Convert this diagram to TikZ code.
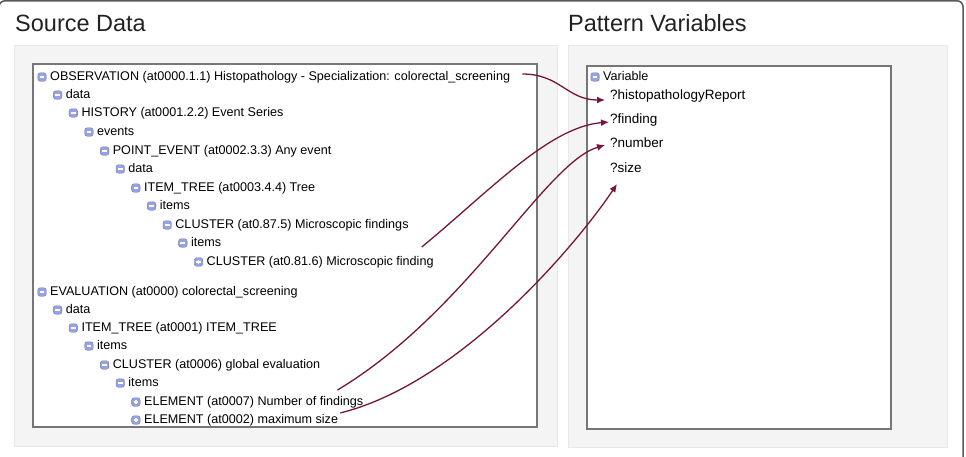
\documentclass[tikz,border=0pt]{standalone}
\usepackage{fontspec}
\setmainfont{Liberation Sans}
\usetikzlibrary{arrows.meta}
\definecolor{panelgray}{RGB}{244,244,244}
\definecolor{paneledge}{RGB}{232,232,232}
\definecolor{boxedge}{RGB}{118,118,118}
\definecolor{framegray}{RGB}{90,90,90}
\definecolor{linkred}{RGB}{118,22,58}
\definecolor{iconblue}{RGB}{150,162,228}
\definecolor{headtext}{RGB}{34,34,34}
\tikzset{
  panel/.style={fill=panelgray, draw=paneledge, line width=0.8pt},
  treebox/.style={fill=white, draw=boxedge, line width=1.4pt},
  rowtext/.style={anchor=west, inner sep=0pt, text height=9.5pt, text depth=2.7pt,
    font=\fontsize{12.6}{15}\selectfont},
  vartext/.style={rowtext, font=\fontsize{13.5}{16}\selectfont},
  heading/.style={anchor=base west, inner sep=0pt, text=headtext,
    font=\fontsize{23.5}{28}\selectfont},
  minusbox/.style={rectangle, rounded corners=2.5pt, minimum size=8.5pt, inner sep=0pt,
    fill=iconblue, draw=iconblue!75!black, line width=0.4pt,
    path picture={\draw[white, line width=1.3pt]
      ([xshift=-2.4pt]path picture bounding box.center) -- ([xshift=2.4pt]path picture bounding box.center);}},
  plusbox/.style={minusbox,
    path picture={\draw[white, line width=1.3pt]
      ([xshift=-2.4pt]path picture bounding box.center) -- ([xshift=2.4pt]path picture bounding box.center)
      ([yshift=-2.4pt]path picture bounding box.center) -- ([yshift=2.4pt]path picture bounding box.center);}},
  link/.style={-{Latex[length=8pt,width=7pt]}, linkred, line width=1.3pt}
}

\begin{document}
\begin{tikzpicture}[x=1pt, y=-1pt]
  \useasboundingbox (0,0) rectangle (966,456);
  \begin{scope}
    \clip (0,0) rectangle (966,456);
    \draw[framegray, line width=1.5pt, rounded corners=6pt] (-1,0.8) rectangle (963,480);
  \end{scope}

  % panels
  \node[heading] (srctitle) at (15,31) {Source Data};
  \node[heading] (vartitle) at (568,31) {Pattern Variables};
  \draw[panel] (14,45) rectangle (557,446);
  \draw[panel] (568,45) rectangle (947,447);
  \draw[treebox] (33,64) rectangle (537,427);
  \draw[treebox] (587,66) rectangle (891,429);

  % source tree
  \foreach \lvl/\yy/\nm/\icn/\txt in {
    0/77/obs/minusbox/{OBSERVATION (at0000.1.1) Histopathology - Specialization: colorectal\_screening},
    1/95/odata/minusbox/{data},
    2/113/hist/minusbox/{HISTORY (at0001.2.2) Event Series},
    3/132/evts/minusbox/{events},
    4/151/pevt/minusbox/{POINT\_EVENT (at0002.3.3) Any event},
    5/169/pdata/minusbox/{data},
    6/188/itree/minusbox/{ITEM\_TREE (at0003.4.4) Tree},
    7/206/oitems/minusbox/{items},
    8/225/clus/minusbox/{CLUSTER (at0.87.5) Microscopic findings},
    9/243/citems/minusbox/{items},
    10/262/fnd/plusbox/{CLUSTER (at0.81.6) Microscopic finding},
    0/292/eval/minusbox/{EVALUATION (at0000) colorectal\_screening},
    1/310/edata/minusbox/{data},
    2/328/etree/minusbox/{ITEM\_TREE (at0001) ITEM\_TREE},
    3/346/eitems/minusbox/{items},
    4/365/glob/minusbox/{CLUSTER (at0006) global evaluation},
    5/383/gitems/minusbox/{items},
    6/402/enum/plusbox/{ELEMENT (at0007) Number of findings},
    6/420/esize/plusbox/{ELEMENT (at0002) maximum size}}
  {
    \node[\icn] (i\nm) at ({42+15.65*\lvl},\yy) {};
    \node[rowtext] (\nm) at ({50+15.65*\lvl},\yy) {\txt};
  }

  % pattern variables
  \node[minusbox] (ivar) at (595,77) {};
  \node[rowtext] (var) at (603,77) {Variable};
  \node[vartext] (rep) at (610,96) {?histopathologyReport};
  \node[vartext] (find) at (610,120) {?finding};
  \node[vartext] (num) at (610,144) {?number};
  \node[vartext] (size) at (610,169) {?size};

  % mappings
  \draw[link] ([xshift=12pt,yshift=3pt]obs.east) .. controls +(38,0) and +(-38,0) .. ([xshift=-5pt,yshift=-4pt]rep.west);
  \draw[link] ([xshift=-12pt,yshift=15pt]fnd.east) .. controls +(69,-57) and +(-60,5) .. ([xshift=-1pt,yshift=-2pt]find.west);
  \draw[link] ([xshift=-26pt,yshift=12pt]enum.east) .. controls +(130,-78) and +(-60,18) .. ([xshift=-5pt,yshift=-1pt]num.west);
  \draw[link] ([xshift=2pt,yshift=7pt]esize.east) .. controls +(120,-30) and +(-40,60) .. ([xshift=7pt,yshift=-15pt]size.west);
\end{tikzpicture}
\end{document}
